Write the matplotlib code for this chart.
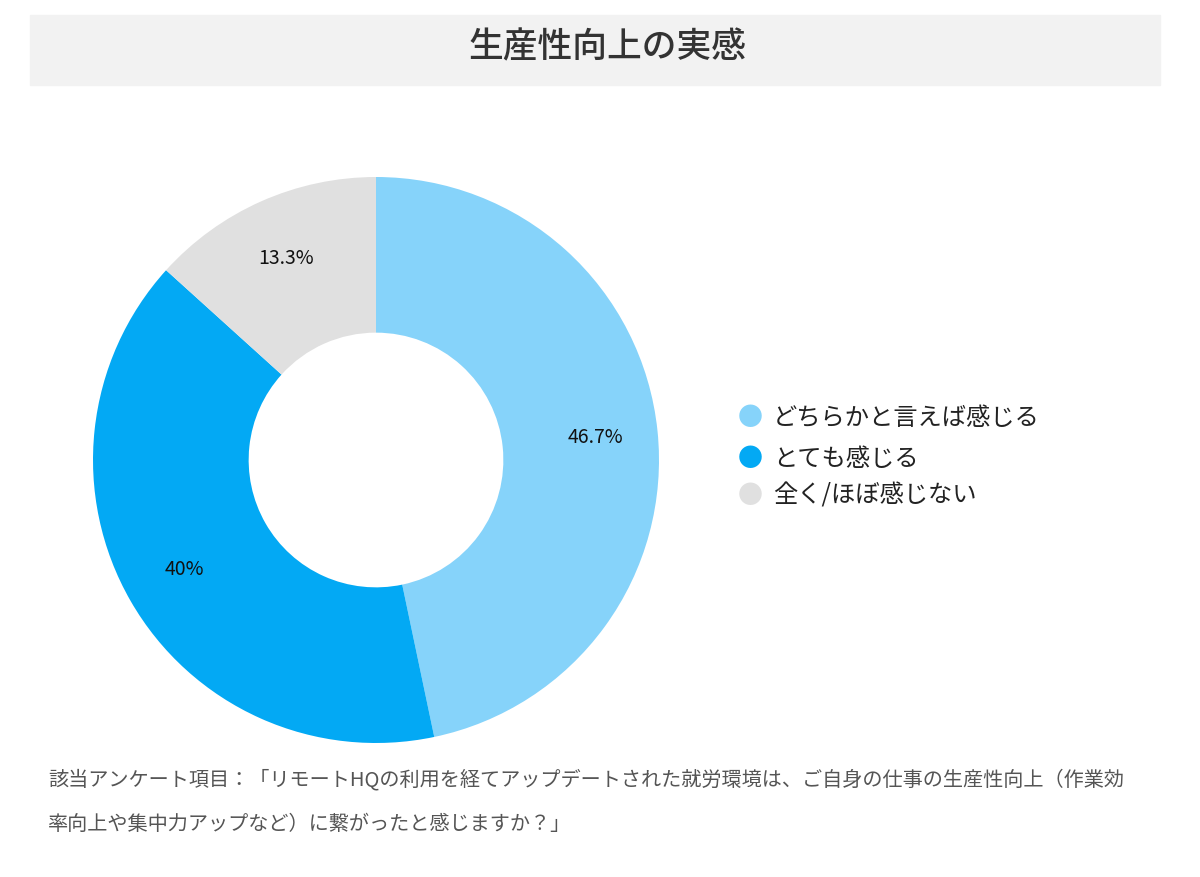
import matplotlib
matplotlib.use("Agg")
import matplotlib.pyplot as plt
from matplotlib.patches import Rectangle
import numpy as np

plt.rcParams['font.family'] = ['Noto Sans CJK JP', 'DejaVu Sans']

categories = ["どちらかと言えば感じる", "とても感じる", "全く/ほぼ感じない"]
values = [46.7, 40, 13.3]
labels = ["46.7%", "40%", "13.3%"]
colors = ["#86D3FA", "#03A9F4", "#E0E0E0"]

W, H = 1200, 877
fig = plt.figure(figsize=(12, 8.77), dpi=100)
fig.patches.append(Rectangle((30/W, 1-85/H), 1130/W, 70/H, transform=fig.transFigure,
                             color="#F2F2F2", zorder=0))
fig.text(608/W, 1-47/H, "生産性向上の実感", ha="center", va="center", fontsize=25,
         color="#333333", fontweight="medium")

ax = fig.add_axes([93/W, 1-743/H, 566/W, 566/H])
wedges, _ = ax.pie(values, colors=colors, startangle=90, counterclock=False,
                   wedgeprops=dict(width=0.55, linewidth=0))
cum = 0
for v, lab in zip(values, labels):
    mid = 90 - (cum + v/2) * 3.6
    cum += v
    r = 0.78
    ax.text(r*np.cos(np.radians(mid)), r*np.sin(np.radians(mid)), lab,
            ha="center", va="center", fontsize=14, color="#111111")
ax.set_xlim(-1, 1)
ax.set_ylim(-1, 1)
ax.set_aspect("equal")

ys = [418, 459, 496]
for y, c, t in zip(ys, colors, categories):
    fig.text(750/W, 1-y/H, "●", ha="center", va="center", fontsize=18, color=c)
    fig.text(773/W, 1-y/H, t, ha="left", va="center", fontsize=17.5, color="#222222")

fig.text(48/W, 1-780/H, "該当アンケート項目：「リモートHQの利用を経てアップデートされた就労環境は、ご自身の仕事の生産性向上（作業効",
         ha="left", va="center", fontsize=14.5, color="#555555")
fig.text(48/W, 1-825/H, "率向上や集中力アップなど）に繋がったと感じますか？」",
         ha="left", va="center", fontsize=14.5, color="#555555")

fig.savefig("out.png", dpi=100, facecolor="white")
